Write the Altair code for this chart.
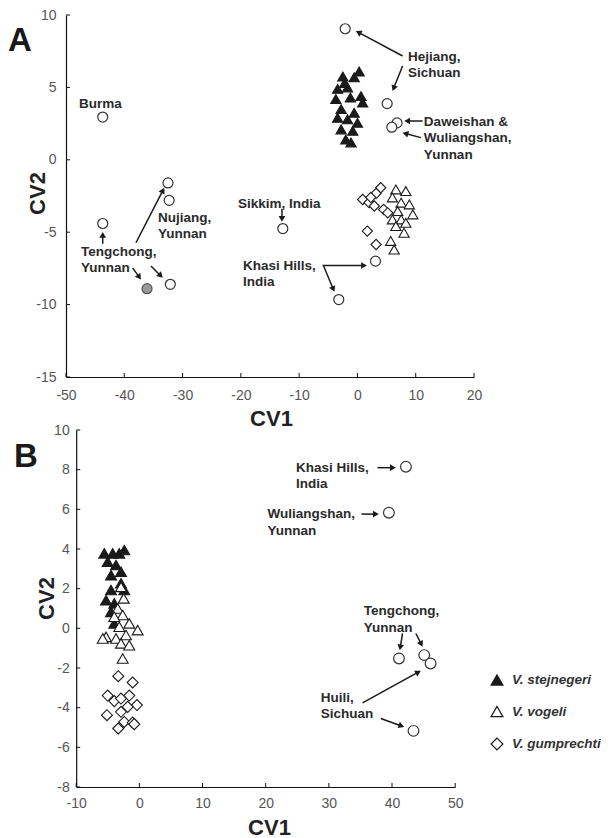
import math
import altair as alt
import pandas as pd

FONT = "Liberation Sans"
SPECIES = ["V. stejnegeri", "V. vogeli", "V. gumprechti"]

# ---------------- Panel A data ----------------
A_STEJ_X = [0.3, -0.55, -2.5, -3.4, -1.7, 0.6, -3.7, 0.9, -2.8, -0.55, -3.4, -1.7, 0.0, -2.8, -0.8, -2.0, -1.1, -1.2, -2.2]
A_STEJ_Y = [6.1, 5.7, 5.75, 4.9, 5.0, 4.4, 4.2, 3.95, 3.5, 3.25, 2.9, 2.8, 2.55, 2.1, 2.0, 1.4, 1.2, 4.3, 5.3]
A_VOG_X = [6.6, 8.3, 6.0, 7.5, 8.9, 9.5, 6.9, 6.0, 7.5, 6.6, 8.3, 5.7, 6.3, 8.0]
A_VOG_Y = [-2.05, -2.16, -2.6, -2.96, -3.08, -3.77, -3.54, -4.12, -4.12, -4.58, -4.35, -5.6, -6.2, -5.04]
A_GUM_X = [4.0, 3.2, 0.9, 2.0, 2.9, 4.5, 2.3, 1.7, 3.2, 5.2]
A_GUM_Y = [-1.93, -2.32, -2.74, -2.96, -3.19, -3.43, -2.6, -4.92, -5.85, -3.66]
A_LOC_X = [-43.7, -43.7, -32.5, -32.3, -32.1, -12.8, -2.1, 5.1, 6.8, 5.9, 3.1, -3.2]
A_LOC_Y = [2.95, -4.4, -1.6, -2.8, -8.6, -4.75, 9.05, 3.88, 2.55, 2.25, -7.0, -9.65]
A_GRAY_X = [-36.1]
A_GRAY_Y = [-8.9]

A_LABELS = ["Burma", "Tengchong,\nYunnan", "Nujiang,\nYunnan", "Sikkim, India",
            "Khasi Hills,\nIndia", "Hejiang,\nSichuan", "Daweishan &\nWuliangshan,\nYunnan"]
A_LABEL_X = [-47.77, -47.43, -34.22, -20.5, -19.64, 8.66, 11.4]
A_LABEL_Y = [3.6, -6.63, -4.28, -3.31, -7.6, 6.85, 2.34]

A_ARROW_X1 = [-43.7, -38.0, -38.57, -35.42, -12.95, -5.97, -5.8, 7.75, 7.75, 11.18, 10.89]
A_ARROW_Y1 = [-5.8, -5.73, -7.46, -7.34, -3.38, -7.3, -7.34, 7.17, 6.48, 2.68, 1.53]
A_ARROW_X2 = [-43.7, -33.14, -37.14, -33.41, -12.95, 1.63, -3.95, -0.26, 6.03, 8.03, 7.75]
A_ARROW_Y2 = [-4.98, -1.93, -8.27, -8.15, -4.28, -7.3, -9.12, 8.9, 4.75, 2.68, 1.87]

A_XTICKS = [-50, -40, -30, -20, -10, 0, 10, 20]
A_YTICKS = [-15, -10, -5, 0, 5, 10]

# ---------------- Panel B data ----------------
B_STEJ_X = [-5.55, -4.22, -3.18, -2.39, -5.02, -3.70, -2.91, -4.49, -2.91, -4.49, -5.28, -3.97, -4.49, -3.97, -2.39]
B_STEJ_Y = [3.78, 3.78, 3.78, 3.95, 3.36, 3.19, 2.85, 2.68, 2.27, 1.93, 1.42, 1.26, 0.83, 0.25, 1.93]
B_VOG_X = [-2.91, -2.48, -3.43, -2.64, -3.97, -1.6, -3.18, -0.27, -5.28, -2.12, -3.7, -2.91, -1.6, -2.64, -5.8]
B_VOG_Y = [2.09, 1.51, 1.0, 0.67, 0.58, 0.25, 0.08, -0.09, -0.43, -0.34, -0.51, -0.76, -0.85, -1.52, -0.51]
B_GUM_X = [-3.34, -1.06, -5.02, -3.97, -1.6, -2.91, -0.38, -1.85, -2.91, -5.13, -2.39, -1.06, -0.81, -3.34]
B_GUM_Y = [-2.41, -2.73, -3.39, -3.67, -3.39, -3.54, -3.87, -3.96, -4.21, -4.38, -4.72, -4.75, -4.83, -5.05]
B_LOC_X = [42.2, 39.5, 41.1, 45.1, 46.1, 43.4]
B_LOC_Y = [8.15, 5.83, -1.52, -1.35, -1.77, -5.17]

B_LABELS = ["Khasi Hills,\nIndia", "Wuliangshan,\nYunnan", "Tengchong,\nYunnan", "Huili,\nSichuan"]
B_LABEL_X = [24.78, 20.3, 35.54, 28.73]
B_LABEL_Y = [7.9, 5.54, 0.67, -3.71]

B_ARROW_X1 = [37.7, 35.17, 41.66, 43.77, 35.33, 38.23]
B_ARROW_Y1 = [8.1, 5.76, -0.26, -0.26, -3.76, -4.55]
B_ARROW_X2 = [40.6, 37.9, 41.23, 44.83, 44.56, 41.92]
B_ARROW_Y2 = [8.1, 5.76, -1.1, -0.93, -2.14, -4.97]

B_XTICKS = [-10, 0, 10, 20, 30, 40, 50]
B_YTICKS = [-8, -6, -4, -2, 0, 2, 4, 6, 8, 10]

# ---------------- layout constants ----------------
A_XDOM, A_YDOM = [-50, 20], [-15, 10]
B_XDOM, B_YDOM = [-10, 50], [-8, 10]
A_W, A_H = 408, 362
B_W, B_H = 392, 357
B_X0 = 10.2
B_RANGE = [B_X0, B_X0 + 379]
HEAD_SIZE = 45
HEAD_H = math.sqrt(3) / 2 * math.sqrt(HEAD_SIZE) / 2


def species_df(xs, ys):
    rows = []
    for sp, xl, yl in zip(SPECIES, xs, ys):
        for x, y in zip(xl, yl):
            rows.append({"species": sp, "x": x, "y": y})
    return pd.DataFrame(rows)


def arrow_dfs(x1, y1, x2, y2, sx, sy):
    rules, heads = [], []
    for a, b, c, d in zip(x1, y1, x2, y2):
        dx, dy = (c - a) * sx, (d - b) * sy
        L = math.hypot(dx, dy)
        ux, uy = dx / L, dy / L
        hx, hy = c - ux * HEAD_H / sx, d - uy * HEAD_H / sy
        ang = math.degrees(math.atan2(dx, dy)) % 360
        rules.append({"x": a, "y": b, "x2": hx, "y2": hy})
        heads.append({"x": hx, "y": hy, "ang": ang})
    return pd.DataFrame(rules), pd.DataFrame(heads)


AXIS_COMMON = dict(grid=False, ticks=False, tickSize=0, labelFlush=False, labelOverlap=False,
                   domainColor="#111111", domainWidth=1.2, labelColor="#555555",
                   labelFont=FONT, labelFontSize=14, titleFont=FONT, titleFontSize=22,
                   titleFontWeight="bold", titleColor="#222222", titleAlign="center",
                   titleBaseline="middle", labelExpr="'' + datum.value")


def panel(xdom, ydom, xticks, yticks, w, h, xrange_, yoffset, xaxis_kw, yaxis_kw,
          sp_df, loc_x, loc_y, gray_x, gray_y, labels, lx, ly, arrows, letter, letter_xy,
          sizes, legend):
    xscale = alt.Scale(domain=xdom, nice=False, zero=False, **({"range": xrange_} if xrange_ else {}))
    yscale = alt.Scale(domain=ydom, nice=False, zero=False)
    xaxis = alt.Axis(values=xticks, title="CV1", **AXIS_COMMON, **xaxis_kw)
    yaxis = alt.Axis(values=yticks, title="CV2", titleAngle=270, offset=yoffset, **AXIS_COMMON, **yaxis_kw)
    X = lambda f="x": alt.X(f"{f}:Q", scale=xscale, axis=xaxis)
    Y = lambda f="y": alt.Y(f"{f}:Q", scale=yscale, axis=yaxis)

    x0 = xrange_[0] if xrange_ else 0
    xt = alt.Chart(pd.DataFrame({"x": xticks})).mark_rule(color="#111111", strokeWidth=1).encode(
        x=X(), y=alt.value(h), y2=alt.value(h - 4))
    yt = alt.Chart(pd.DataFrame({"y": yticks})).mark_rule(color="#111111", strokeWidth=1).encode(
        y=Y(), x=alt.value(x0), x2=alt.value(x0 + 4))

    sp = alt.Chart(sp_df).mark_point(filled=True, opacity=1, strokeWidth=1.1,
                                     size=sizes[0]).encode(
        x=X(), y=Y(),
        shape=alt.Shape("species:N", scale=alt.Scale(domain=SPECIES, range=["triangle-up", "triangle-up", "diamond"]),
                        legend=legend),
        fill=alt.Fill("species:N", scale=alt.Scale(domain=SPECIES, range=["#1a1a1a", "white", "white"]),
                      legend=legend),
        stroke=alt.Stroke("species:N", scale=alt.Scale(domain=SPECIES, range=["#1a1a1a", "#1a1a1a", "#1a1a1a"]),
                          legend=legend),
    )
    loc = alt.Chart(pd.DataFrame({"x": loc_x, "y": loc_y})).mark_point(
        shape="circle", filled=True, fill="white", stroke="#333333", strokeWidth=1.2,
        size=sizes[1], opacity=1).encode(x=X(), y=Y())
    layers = [xt, yt, sp, loc]
    if gray_x:
        layers.append(alt.Chart(pd.DataFrame({"x": gray_x, "y": gray_y})).mark_point(
            shape="circle", filled=True, fill="#9a9a9a", stroke="#555555", strokeWidth=1.2,
            size=sizes[1], opacity=1).encode(x=X(), y=Y()))
    rules, heads = arrows
    layers.append(alt.Chart(rules).mark_rule(color="#1a1a1a", strokeWidth=1.5).encode(
        x=X(), y=Y(), x2="x2:Q", y2="y2:Q"))
    layers.append(alt.Chart(heads).mark_point(shape="triangle-up", filled=True, size=HEAD_SIZE,
                                              color="#1a1a1a", opacity=1).encode(
        x=X(), y=Y(), angle=alt.Angle("ang:Q", scale=None)))
    layers.append(alt.Chart(pd.DataFrame({"x": lx, "y": ly, "label": labels})).mark_text(
        align="left", baseline="alphabetic", lineBreak="\n", font=FONT, fontSize=13.5,
        fontWeight="bold", color="#2a2a2a", lineHeight=16.5).encode(x=X(), y=Y(), text="label:N"))
    layers.append(alt.Chart(pd.DataFrame({"t": [letter]})).mark_text(
        align="left", baseline="alphabetic", font=FONT, fontSize=33, fontWeight="bold",
        color="#1a1a1a").encode(x=alt.value(letter_xy[0]), y=alt.value(letter_xy[1]), text="t:N"))
    return alt.layer(*layers).properties(width=w, height=h)


A_arrows = arrow_dfs(A_ARROW_X1, A_ARROW_Y1, A_ARROW_X2, A_ARROW_Y2,
                     A_W / (A_XDOM[1] - A_XDOM[0]), A_H / (A_YDOM[1] - A_YDOM[0]))
B_arrows = arrow_dfs(B_ARROW_X1, B_ARROW_Y1, B_ARROW_X2, B_ARROW_Y2,
                     (B_RANGE[1] - B_RANGE[0]) / (B_XDOM[1] - B_XDOM[0]), B_H / (B_YDOM[1] - B_YDOM[0]))

chartA = panel(A_XDOM, A_YDOM, A_XTICKS, A_YTICKS, A_W, A_H, None, 0,
               dict(labelPadding=11, titleX=205, titleY=41),
               dict(labelPadding=10, titleX=-29, titleY=178),
               species_df([A_STEJ_X, A_VOG_X, A_GUM_X], [A_STEJ_Y, A_VOG_Y, A_GUM_Y]),
               A_LOC_X, A_LOC_Y, A_GRAY_X, A_GRAY_Y, A_LABELS, A_LABEL_X, A_LABEL_Y,
               A_arrows, "A", (-58, 36), (105, 100), None)

legendB = alt.Legend(orient="none", legendX=424, legendY=243, title=None, symbolSize=140,
                     symbolStrokeWidth=1.2, labelFont=FONT,
                     labelFontSize=13.5, labelFontStyle="italic", labelFontWeight="bold",
                     labelColor="#333333", rowPadding=15.5, labelOffset=8)

chartB = panel(B_XDOM, B_YDOM, B_XTICKS, B_YTICKS, B_W, B_H, B_RANGE, -B_X0,
               dict(labelPadding=9, titleX=203, titleY=40),
               dict(labelPadding=7, titleX=-30, titleY=168),
               species_df([B_STEJ_X, B_VOG_X, B_GUM_X], [B_STEJ_Y, B_VOG_Y, B_GUM_Y]),
               B_LOC_X, B_LOC_Y, [], [], B_LABELS, B_LABEL_X, B_LABEL_Y,
               B_arrows, "B", (-52, 37), (120, 115), legendB)

chart = alt.vconcat(chartA, chartB, spacing=53, bounds="flush").resolve_scale(
    shape="independent", fill="independent", stroke="independent"
).resolve_legend(
    shape="independent", fill="independent", stroke="independent"
).properties(padding={"left": 0, "top": 0, "right": 0, "bottom": 5}).configure_view(stroke=None)

chart.save("out.html", embed_options={"renderer": "svg", "actions": False})
